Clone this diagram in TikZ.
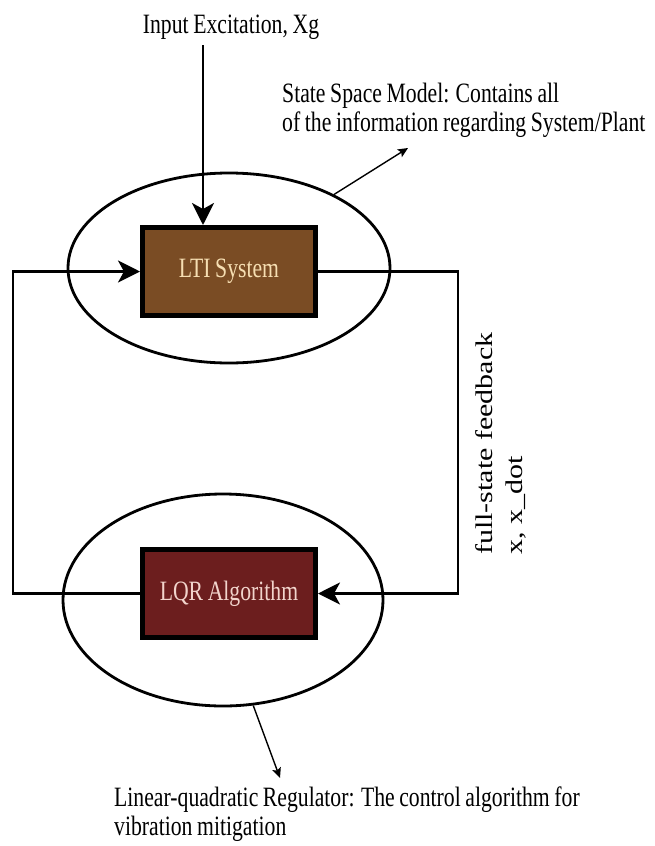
\documentclass[tikz,border=0pt]{standalone}
\usepackage{fontspec}
\setmainfont[FakeStretch=0.775,WordSpace=0.85]{Liberation Serif}
\newfontfamily\plainserif{Liberation Serif}
\usetikzlibrary{shapes.geometric,arrows.meta}
\definecolor{ltibrown}{RGB}{122,76,36}
\definecolor{ltitext}{RGB}{246,222,178}
\definecolor{lqrred}{RGB}{108,30,30}
\definecolor{lqrtext}{RGB}{242,212,204}
\tikzset{
  txt/.style={inner sep=0pt, font=\fontsize{28}{29}\selectfont},
  rottxt/.style={inner sep=0pt, font=\plainserif\fontsize{30}{30}\selectfont, rotate=90, anchor=base west},
  blockbox/.style={draw=black, line width=5pt, minimum width=173pt, minimum height=88pt, inner sep=0pt, font=\fontsize{28}{29}\selectfont},
  oval/.style={draw=black, ellipse, line width=2.8pt, inner sep=0pt},
  conn/.style={line width=2.8pt, -{Stealth[length=22pt,width=22pt,inset=6pt]}},
  note/.style={line width=1.4pt, -{Stealth[length=10pt,width=9pt,inset=2pt]}}
}
\begin{document}
\begin{tikzpicture}[x=1pt,y=-1pt]
\useasboundingbox[fill=white] (0,0) rectangle (654,846);
% ellipses
\node[oval, minimum width=322pt, minimum height=190pt] (e1) at (229,268) {};
\node[oval, minimum width=320pt, minimum height=212pt] (e2) at (223,600) {};
% blocks
\node[blockbox, fill=ltibrown, text=ltitext] (lti) at (229,271.5) {LTI System};
\node[blockbox, fill=lqrred, text=lqrtext] (lqr) at (229,593.5) {LQR Algorithm};
% input
\node[txt, anchor=base] (inp) at (231,33) {Input Excitation, Xg};
\coordinate (inp0) at (203,45);
\draw[conn] (inp0) -- (inp0 |- lti.north);
% loop
\coordinate (rr) at (458,430);
\coordinate (ll) at (13,430);
\draw[conn] (lti.east) -| (rr) |- (lqr.east);
\draw[conn] (lqr.west) -| (ll) |- (lti.west);
% feedback label
\node[rottxt] (fb1) at (492,555) {\scalebox{1}[0.8]{full-state feedback}};
\node[rottxt] (fb2) at (522,555) {\scalebox{1}[0.8]{x, x\_dot}};
% annotations
\node[txt, anchor=west, align=left] (ssm) at (282,110) {State Space Model: Contains all\\of the information regarding System/Plant};
\coordinate (ssmtip) at (408,148);
\draw[note] (e1.35) -- (ssmtip);
\node[txt, anchor=west, align=left] (lqrnote) at (114,814) {Linear-quadratic Regulator: The control algorithm for\\vibration mitigation};
\coordinate (lqrtip) at (280,778);
\draw[note] (e2.-74) -- (lqrtip);
\end{tikzpicture}
\end{document}
